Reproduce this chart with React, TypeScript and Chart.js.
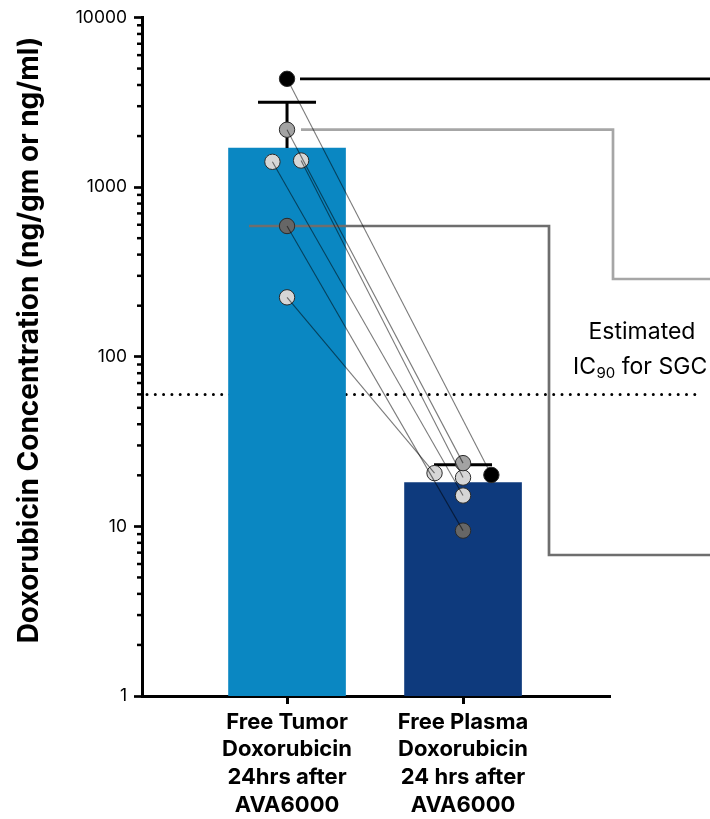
import React, { useEffect, useRef } from 'react';
import { Chart, registerables } from 'chart.js';

Chart.register(...registerables);

const FONT = 'Inter, "Open Sans", "DejaVu Sans", sans-serif';

// Categories (x) and their multi-line tick labels
const categoryPositions = [1, 2];
const categoryLabels = [
  ['Free Tumor', 'Doxorubicin', '24hrs after', 'AVA6000'],
  ['Free Plasma', 'Doxorubicin', '24 hrs after', 'AVA6000'],
];

// Bar means and mean + SD (upper error bar)
const barMeans = [1700, 18.1];
const barSdTop = [3170, 23.1];
const barColors = ['#0a87c2', '#0e3a7d'];

// Individual subjects: tumor value -> plasma value
const tumorValues = [4350, 2180, 1410, 1435, 590, 224];
const plasmaValues = [20.1, 23.6, 15.2, 19.4, 9.44, 20.6];
const subjectColors = ['#000000', '#a3a3a3', '#d6d6d6', '#d6d6d6', '#666666', '#d6d6d6'];
// horizontal jitter (in category units) of each dot
const tumorJitter = [0, 0, -0.083, 0.08, 0, 0];
const plasmaJitter = [0.161, 0, 0, 0, 0, -0.162];

// Y axis
const yMajorTicks = [1, 10, 100, 1000, 10000];
const yMinorMultipliers = [2, 3, 4, 5, 6, 7, 8, 9];
const yTitle = 'Doxorubicin Concentration (ng/gm or ng/ml)';

// Reference line
const ic90Value = 60;

// Callout lines for highlighted subjects: subject index, color, corner x, drop y (px)
const callouts = [
  { subject: 0, color: '#000000', startX: 300, cornerX: null as number | null, dropY: null as number | null },
  { subject: 1, color: '#a6a6a6', startX: 301, cornerX: 613, dropY: 279 },
  { subject: 4, color: '#6e6e6e', startX: 249, cornerX: 549, dropY: 555 },
];

const customDraw = {
  id: 'customDraw',
  beforeDatasetsDraw(chart: any) {
    const { ctx, chartArea, scales } = chart;
    const y = scales.y.getPixelForValue(ic90Value);
    ctx.save();
    ctx.strokeStyle = '#000';
    ctx.lineWidth = 3;
    ctx.lineCap = 'round';
    ctx.setLineDash([0, 8.3]);
    ctx.beginPath();
    ctx.moveTo(chartArea.left + 5, y);
    ctx.lineTo(700, y);
    ctx.stroke();
    ctx.restore();
  },
  afterDatasetDraw(chart: any, args: any) {
    if (args.meta.type !== 'bar') return;
    const { ctx, scales } = chart;
    const xs = scales.x;
    const ys = scales.y;
    ctx.save();
    // callout lines
    ctx.lineCap = 'butt';
    callouts.forEach((c) => {
      const yy = ys.getPixelForValue(tumorValues[c.subject]);
      ctx.strokeStyle = c.color;
      ctx.lineWidth = 2.7;
      ctx.beginPath();
      ctx.moveTo(c.startX, yy);
      if (c.cornerX !== null && c.dropY !== null) {
        ctx.lineTo(c.cornerX, yy);
        ctx.lineTo(c.cornerX, c.dropY);
        ctx.lineTo(712, c.dropY);
      } else {
        ctx.lineTo(712, yy);
      }
      ctx.stroke();
    });
    // error bars
    ctx.strokeStyle = '#000';
    ctx.lineWidth = 3;
    categoryPositions.forEach((p, i) => {
      const x = xs.getPixelForValue(p);
      const y0 = ys.getPixelForValue(barMeans[i]);
      const y1 = ys.getPixelForValue(barSdTop[i]);
      ctx.beginPath();
      ctx.moveTo(x, y0);
      ctx.lineTo(x, y1);
      ctx.moveTo(x - 29, y1);
      ctx.lineTo(x + 29, y1);
      ctx.stroke();
    });
    ctx.restore();
  },
  afterDraw(chart: any) {
    const { ctx, chartArea, scales } = chart;
    const ys = scales.y;
    ctx.save();
    // minor ticks
    ctx.strokeStyle = '#000';
    ctx.lineWidth = 2.5;
    for (let d = 0; d < yMajorTicks.length - 1; d++) {
      yMinorMultipliers.forEach((m) => {
        const yy = ys.getPixelForValue(yMajorTicks[d] * m);
        ctx.beginPath();
        ctx.moveTo(chartArea.left - 5, yy);
        ctx.lineTo(chartArea.left, yy);
        ctx.stroke();
      });
    }
    // Y axis title
    ctx.save();
    ctx.translate(30, 340);
    ctx.rotate(-Math.PI / 2);
    ctx.font = `bold 28px ${FONT}`;
    ctx.textAlign = 'center';
    ctx.textBaseline = 'middle';
    ctx.fillStyle = '#000';
    ctx.fillText(yTitle, 0, 0);
    ctx.restore();
    // IC90 annotation
    ctx.fillStyle = '#000';
    ctx.textBaseline = 'alphabetic';
    ctx.font = `23px ${FONT}`;
    ctx.textAlign = 'center';
    ctx.fillText('Estimated', 642, 339);
    ctx.textAlign = 'left';
    let x = 573;
    ctx.fillText('IC', x, 374);
    x += ctx.measureText('IC').width + 0.5;
    ctx.font = `15px ${FONT}`;
    ctx.fillText('90', x, 378);
    x += ctx.measureText('90').width;
    ctx.font = `23px ${FONT}`;
    ctx.fillText(' for SGC', x, 374);
    ctx.restore();
  },
};

export default function App() {
  const canvasRef = useRef<HTMLCanvasElement | null>(null);

  useEffect(() => {
    const canvas = canvasRef.current;
    if (!canvas) return;

    const lineSets = tumorValues.map((t, i) => ({
      type: 'line' as const,
      data: [
        { x: categoryPositions[0] + tumorJitter[i], y: t },
        { x: categoryPositions[1] + plasmaJitter[i], y: plasmaValues[i] },
      ],
      borderColor: 'rgba(0,0,0,0.52)',
      borderWidth: 1.1,
      pointRadius: 0,
      fill: false,
      order: 0,
    }));

    const pointSets = tumorValues.map((t, i) => ({
      type: 'scatter' as const,
      data: [
        { x: categoryPositions[0] + tumorJitter[i], y: t },
        { x: categoryPositions[1] + plasmaJitter[i], y: plasmaValues[i] },
      ],
      showLine: false,
      pointRadius: 7.7,
      pointBackgroundColor: subjectColors[i],
      pointBorderColor: '#2a2a2a',
      pointBorderWidth: 1,
      order: 1,
    }));

    const chart = new Chart(canvas, {
      type: 'bar',
      data: {
        datasets: [
          ...lineSets,
          ...pointSets,
          {
            type: 'bar',
            data: categoryPositions.map((p, i) => ({ x: p, y: barMeans[i] })),
            backgroundColor: barColors,
            barThickness: 117,
            order: 2,
          } as any,
        ],
      },
      options: {
        animation: false,
        responsive: false,
        events: [],
        layout: { padding: { left: 0, top: 15, right: 100, bottom: 0 } },
        plugins: { legend: { display: false }, tooltip: { enabled: false } },
        scales: {
          x: {
            type: 'linear',
            min: 0.176,
            max: 2.835,
            offset: false,
            afterBuildTicks: (s: any) => {
              s.ticks = categoryPositions.map((v) => ({ value: v }));
            },
            afterFit: (s: any) => {
              s.height = 123;
            },
            ticks: {
              autoSkip: false,
              maxRotation: 0,
              padding: 4,
              color: '#000',
              font: { family: FONT, size: 22, weight: 'bold', lineHeight: 1.264 },
              callback: (v: any) => categoryLabels[categoryPositions.indexOf(Number(v))] ?? '',
            },
            grid: { offset: false, drawOnChartArea: false, drawTicks: true, tickLength: 8, tickWidth: 3, tickColor: '#000' },
            border: { display: true, color: '#000', width: 3 },
          },
          y: {
            type: 'logarithmic',
            min: 1,
            max: 10000,
            afterBuildTicks: (s: any) => {
              s.ticks = yMajorTicks.map((v) => ({ value: v }));
            },
            afterFit: (s: any) => {
              s.width = 142;
            },
            ticks: {
              padding: 7,
              color: '#000',
              font: { family: FONT, size: 17.5 },
              callback: (v: any) => String(v),
            },
            grid: { drawOnChartArea: false, drawTicks: true, tickLength: 8, tickWidth: 2.7, tickColor: '#000' },
            border: { display: true, color: '#000', width: 3 },
            title: { display: false },
          },
        },
      } as any,
      plugins: [customDraw],
    });

    return () => chart.destroy();
  }, []);

  return (
    <div style={{ position: 'absolute', left: 0, top: 0, width: 710, height: 819, background: '#fff' }}>
      <canvas ref={canvasRef} width={710} height={819} style={{ display: 'block' }} />
    </div>
  );
}
